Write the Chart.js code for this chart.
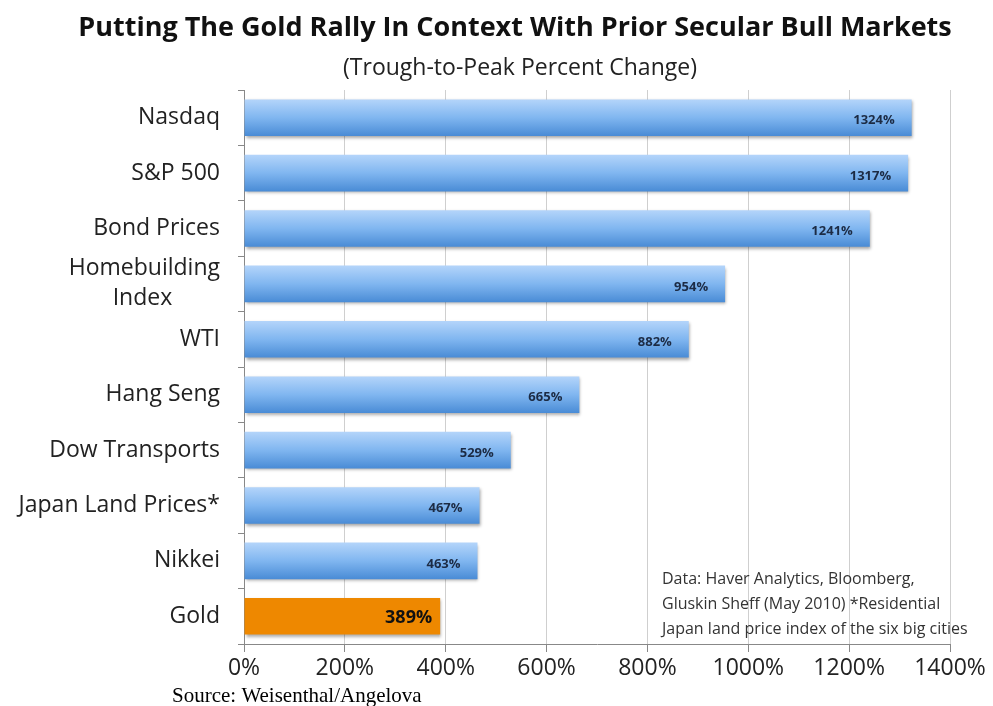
<!DOCTYPE html>
<html>
<head>
<meta charset="utf-8">
<script src="https://cdn.jsdelivr.net/npm/chart.js@4.4.0/dist/chart.umd.min.js"></script>
<style>
html,body{margin:0;padding:0;background:#fff;}
#wrap{width:993px;height:706px;position:relative;}
</style>
</head>
<body>
<div id="wrap"><canvas id="c"></canvas></div>
<script>
const categories = ['Nasdaq','S&P 500','Bond Prices',['Homebuilding','Index'],'WTI','Hang Seng','Dow Transports','Japan Land Prices*','Nikkei','Gold'];
const values = [1324,1317,1241,954,882,665,529,467,463,389];
const valueLabels = ['1324%','1317%','1241%','954%','882%','665%','529%','467%','463%','389%'];
const xTicks = [0,200,400,600,800,1000,1200,1400];
const noteLines = ['Data: Haver Analytics, Bloomberg,','Gluskin Sheff (May 2010) *Residential','Japan land price index of the six big cities'];

const FONT = '"Open Sans", Lato, sans-serif';

function barFill(ctx){
  const chart = ctx.chart;
  if(ctx.dataIndex === values.length-1) return '#ee8800';
  const ys = chart.scales.y;
  if(!ys || ys.top === undefined) return '#6aa6e8';
  const y = ys.getPixelForValue(ctx.dataIndex);
  const g = chart.ctx.createLinearGradient(0,y-18,0,y+18);
  g.addColorStop(0,'#b3d4fa');
  g.addColorStop(0.5,'#80b6f0');
  g.addColorStop(1,'#4a8cd6');
  return g;
}

const decor = {
  id:'decor',
  beforeDatasetDraw(chart){
    const c=chart.ctx; c.save();
    c.shadowColor='rgba(0,0,0,0.35)'; c.shadowBlur=3; c.shadowOffsetX=1; c.shadowOffsetY=2;
  },
  afterDatasetDraw(chart){ chart.ctx.restore(); },
  afterDatasetsDraw(chart){
    const c=chart.ctx;
    const meta=chart.getDatasetMeta(0);
    c.save();
    c.textAlign='right'; c.textBaseline='middle';
    meta.data.forEach((bar,i)=>{
      if(i===values.length-1){
        c.font='bold 18px '+FONT; c.fillStyle='#111';
        c.fillText(valueLabels[i], bar.x-8, bar.y+2);
      } else {
        c.font='bold 13px '+FONT; c.fillStyle='#1c2b44';
        c.fillText(valueLabels[i], bar.x-17, bar.y+3);
      }
    });
    c.restore();
  },
  afterDraw(chart){
    const c=chart.ctx;
    c.save();
    c.textBaseline='middle';
    c.textAlign='center';
    c.fillStyle='#111';
    c.font='bold 27px '+FONT;
    c.fillText('Putting The Gold Rally In Context With Prior Secular Bull Markets',515,28);
    c.font='23px '+FONT;
    c.fillStyle='#222';
    c.fillText('(Trough-to-Peak Percent Change)',520,68);
    c.textAlign='left';
    c.font='16px '+FONT;
    c.fillStyle='#333';
    noteLines.forEach((t,i)=>c.fillText(t,662,579+i*25));
    c.font='21px "Liberation Serif", "Times New Roman", serif';
    c.fillStyle='#000';
    c.fillText('Source: Weisenthal/Angelova',172,696);
    c.restore();
  }
};

new Chart(document.getElementById('c'),{
  type:'bar',
  data:{
    labels:categories,
    datasets:[{
      data:values,
      backgroundColor:barFill,
      borderWidth:0,
      categoryPercentage:1,
      barPercentage:0.66
    }]
  },
  options:{
    indexAxis:'y',
    responsive:true,
    maintainAspectRatio:false,
    animation:false,
    layout:{padding:{top:90,right:43,left:0,bottom:0}},
    plugins:{legend:{display:false},tooltip:{enabled:false}},
    scales:{
      x:{
        min:0,max:1400,
        afterBuildTicks(ax){ ax.ticks = xTicks.map(v=>({value:v})); },
        afterFit(ax){ ax.height=62; },
        grid:{color:'#cfcfcf',lineWidth:1,tickLength:8,tickColor:'#888'},
        border:{color:'#888'},
        ticks:{color:'#222',padding:3,maxRotation:0,autoSkip:false,font:{family:FONT,size:23},callback:v=>v+'%'}
      },
      y:{
        afterFit(ax){ ax.width=244; },
        grid:{drawOnChartArea:false,tickLength:6,tickColor:'#888'},
        border:{color:'#888'},
        ticks:{
          color:'#222',padding:18,autoSkip:false,font:{family:FONT,size:23,lineHeight:1.3},
          // second line of the two-line label sits centred under the first
          callback(v){
            const l=this.getLabelForValue(v);
            return Array.isArray(l) ? [l[0], l[1]+'        '] : l;
          }
        }
      }
    }
  },
  plugins:[decor]
});
</script>
</body>
</html>
